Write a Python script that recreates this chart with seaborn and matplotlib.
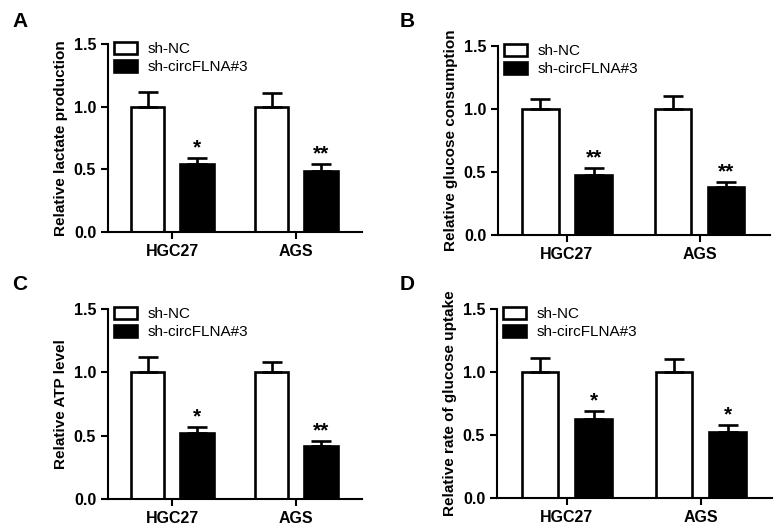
import matplotlib
matplotlib.use("Agg")
import matplotlib.pyplot as plt
import seaborn as sns
import pandas as pd

cells = ["HGC27", "AGS"]
groups = ["sh-NC", "sh-circFLNA#3"]

panel_letters = ["A", "B", "C", "D"]
panel_ylabels = [
    "Relative lactate production",
    "Relative glucose consumption",
    "Relative ATP level",
    "Relative rate of glucose uptake",
]

# means per panel: [HGC27 NC, HGC27 sh, AGS NC, AGS sh]
lactate_mean = [1.0, 0.54, 1.0, 0.49]
lactate_err = [0.12, 0.05, 0.11, 0.05]
glucose_mean = [1.0, 0.48, 1.0, 0.38]
glucose_err = [0.08, 0.05, 0.10, 0.04]
atp_mean = [1.0, 0.52, 1.0, 0.42]
atp_err = [0.12, 0.05, 0.08, 0.04]
uptake_mean = [1.0, 0.63, 1.0, 0.52]
uptake_err = [0.11, 0.06, 0.10, 0.06]

lactate_stars = ["", "*", "", "**"]
glucose_stars = ["", "**", "", "**"]
atp_stars = ["", "*", "", "**"]
uptake_stars = ["", "*", "", "*"]

panel_means = [lactate_mean, glucose_mean, atp_mean, uptake_mean]
panel_errs = [lactate_err, glucose_err, atp_err, uptake_err]
panel_stars = [lactate_stars, glucose_stars, atp_stars, uptake_stars]

sns.set_style("ticks", {
    "axes.edgecolor": "black",
    "text.color": "black",
    "axes.labelcolor": "black",
    "xtick.color": "black",
    "ytick.color": "black",
})
plt.rcParams["font.family"] = ["Liberation Sans", "DejaVu Sans"]

W, H = 778, 525
fig = plt.figure(figsize=(W / 100, H / 100), dpi=100)

# axes boxes in pixels: left, top, right, bottom
boxes = [
    (108, 44, 362, 232),
    (498, 46, 770, 235),
    (108, 309, 362, 499),
    (497, 309, 772, 498),
]

for i, (l, t, r, b) in enumerate(boxes):
    ax = fig.add_axes([l / W, 1 - b / H, (r - l) / W, (b - t) / H])

    df = pd.DataFrame({
        "cell": [c for c in cells for _ in groups],
        "group": [g for _ in cells for g in groups],
        "value": panel_means[i],
        "err": panel_errs[i],
        "star": panel_stars[i],
    })

    sns.barplot(
        data=df, x="cell", y="value", hue="group",
        order=cells, hue_order=groups,
        palette=["white", "black"], edgecolor="black", linewidth=1.9,
        width=0.8, gap=0.32, errorbar=None, legend=False, ax=ax,
    )
    bar_sets = list(ax.containers)

    # error bars (upper only) and significance stars
    for gi, cont in enumerate(bar_sets):
        for ci, bar in enumerate(cont):
            row = df[(df["cell"] == cells[ci]) & (df["group"] == groups[gi])].iloc[0]
            xc = bar.get_x() + bar.get_width() / 2
            top = bar.get_height()
            ax.errorbar(xc, top, yerr=[[0], [row["err"]]], fmt="none",
                        ecolor="black", elinewidth=1.9, capsize=7, capthick=1.9,
                        zorder=1)
            if row["star"]:
                ax.text(xc, top + row["err"] + 0.005, row["star"],
                        ha="center", va="bottom", fontsize=15, fontweight="bold")

    handles = [plt.Rectangle((0, 0), 1, 1, facecolor=c, edgecolor="black", linewidth=1.9)
               for c in ["white", "black"]]
    ax.legend(handles, groups, loc="upper left", frameon=False, fontsize=11,
              handlelength=1.5, handleheight=0.85, handletextpad=0.7,
              labelspacing=0.25, borderaxespad=0.0, bbox_to_anchor=(0.0, 1.045))

    ax.set_ylim(0, 1.5)
    ax.set_yticks([0.0, 0.5, 1.0, 1.5])
    ax.set_yticklabels(["0.0", "0.5", "1.0", "1.5"])
    ax.set_xlim(-0.52, 1.53)
    ax.set_xlabel("")
    ax.set_ylabel(panel_ylabels[i], fontsize=11, fontweight="bold", labelpad=4)
    ax.tick_params(axis="both", width=1.5, length=5, direction="out",
                   labelsize=11.5)
    for lab in ax.get_xticklabels() + ax.get_yticklabels():
        lab.set_fontweight("bold")
    sns.despine(ax=ax)
    for s in ["left", "bottom"]:
        ax.spines[s].set_linewidth(1.5)

    fig.text((12 if i % 2 == 0 else 400) / W, 1 - (12 if i < 2 else 275) / H,
             panel_letters[i], fontsize=15, fontweight="bold", va="top", ha="left")

fig.savefig("out.png", dpi=100)
